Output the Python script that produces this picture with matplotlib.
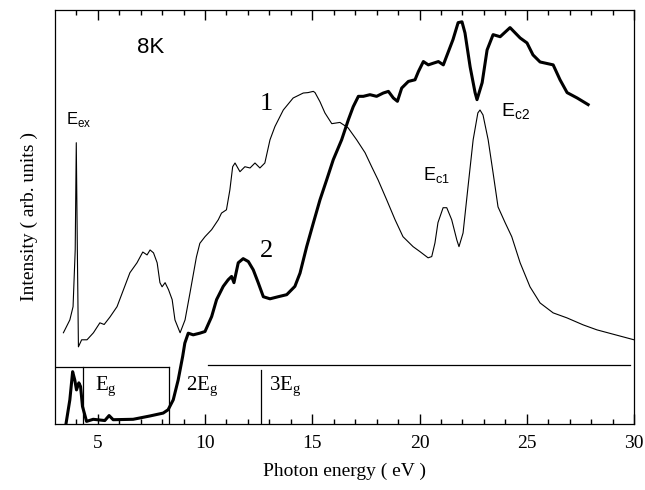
import numpy as np
import matplotlib
matplotlib.use("Agg")
import matplotlib.pyplot as plt

# curve 1 (thin): photon energy (eV), intensity (arb. units)
e1 = [3.4, 3.7, 3.85, 3.95, 4.0, 4.05, 4.1, 4.25, 4.5, 4.8, 5.1, 5.3, 5.57, 5.9,
      6.2, 6.5, 6.83, 7.1, 7.3, 7.44, 7.6, 7.77, 7.9, 8.0, 8.14, 8.3, 8.47, 8.6,
      8.84, 9.07, 9.3, 9.6, 9.76, 10.0, 10.31, 10.62, 10.77, 11.0, 11.16, 11.29,
      11.4, 11.63, 11.86, 12.1, 12.33, 12.56, 12.79, 13.03, 13.26, 13.65, 14.11,
      14.58, 14.8, 15.05, 15.13, 15.36, 15.59, 15.91, 16.29, 16.67, 17.07, 17.46,
      17.77, 18.07, 18.47, 18.86, 19.23, 19.7, 20.02, 20.4, 20.57, 20.72, 20.86,
      21.1, 21.27, 21.5, 21.74, 21.84, 22.03, 22.26, 22.5, 22.72, 22.82, 22.96,
      23.2, 23.43, 23.66, 23.99, 24.3, 24.69, 25.15, 25.62, 26.23, 26.87, 27.63,
      28.27, 30.0]
i1 = [22.0, 25.1, 28.3, 42.0, 67.9, 42.0, 18.6, 20.3, 20.3, 22.0, 24.4, 24.0, 25.8, 28.3,
      32.4, 36.5, 38.9, 41.5, 40.8, 42.0, 41.3, 38.9, 34.1, 33.1, 34.1, 32.4, 30.0, 25.1,
      22.0, 25.1, 31.6, 40.3, 43.6, 45.2, 46.9, 49.3, 50.9, 51.7, 56.5, 62.1,
      63.0, 60.9, 62.1, 61.8, 63.0, 61.8, 63.0, 68.6, 71.8, 75.8, 78.7,
      79.9, 80.0, 80.3, 80.0, 77.8, 75.1, 72.5, 72.8, 71.5, 68.6, 65.5,
      62.1, 58.9, 54.1, 49.3, 45.2, 42.8, 41.6, 40.1, 40.4, 43.7, 48.6,
      52.2, 52.2, 49.3, 44.4, 42.8, 46.1, 57.2, 68.6, 75.1, 75.8, 74.6,
      68.6, 60.6, 52.4, 48.6, 45.2, 38.9, 33.1, 29.2, 26.8, 25.6, 23.9,
      22.7, 20.3]

# curve 2 (thick)
e2 = [3.52, 3.7, 3.83, 3.93, 4.01, 4.12, 4.2, 4.29, 4.48, 4.79, 5.33, 5.53, 5.72,
      6.65, 7.43, 8.05, 8.28, 8.52, 8.75, 8.96, 9.06, 9.22, 9.45, 9.76, 10.0,
      10.31, 10.54, 10.85, 11.08, 11.24, 11.35, 11.55, 11.78, 12.02, 12.25, 12.48,
      12.72, 13.03, 13.41, 13.81, 14.19, 14.43, 14.74, 15.05, 15.36, 15.67, 15.98,
      16.37, 16.68, 16.91, 17.15, 17.38, 17.69, 18.0, 18.31, 18.55, 18.78, 18.97,
      19.17, 19.48, 19.79, 19.95, 20.18, 20.41, 20.64, 20.88, 21.11, 21.56, 21.8,
      21.98, 22.12, 22.36, 22.59, 22.68, 22.92, 23.15, 23.43, 23.76, 24.22, 24.69,
      25.01, 25.29, 25.62, 26.23, 26.55, 26.88, 27.35, 27.86]
i2 = [0.0, 5.8, 12.6, 10.6, 8.2, 9.9, 9.0, 4.2, 0.6, 1.1, 0.8, 2.0, 1.0,
      1.1, 1.9, 2.6, 3.4, 5.8, 10.6, 16.3, 19.5, 21.9, 21.5, 21.9, 22.3,
      25.9, 30.0, 33.2, 34.8, 35.6, 34.1, 38.9, 39.9, 39.2, 37.2, 34.1,
      30.7, 30.2, 30.7, 31.2, 33.2, 36.4, 42.8, 48.5, 54.1, 58.9, 63.8,
      68.6, 73.4, 76.6, 79.1, 79.1, 79.5, 79.1, 79.9, 80.3, 78.7, 77.9,
      81.1, 82.7, 83.1, 85.1, 87.5, 86.7, 87.1, 87.5, 86.7, 92.8, 96.9,
      97.1, 94.4, 86.2, 80.0, 78.3, 82.4, 90.3, 94.0, 93.5, 95.7, 93.2,
      92.0, 89.1, 87.4, 86.7, 83.1, 80.0, 78.7, 77.1]

# Eg, 2Eg, 3Eg markers (eV)
eg_marks = [4.3, 8.3, 12.6]
eg_labels = ["E$_\\mathregular{g}$", "2E$_\\mathregular{g}$", "3E$_\\mathregular{g}$"]

serif = "Liberation Serif"
sans = "Liberation Sans"

fig = plt.figure(figsize=(6.45, 4.9), dpi=100)
ax = fig.add_axes([0.085, 0.135, 0.898, 0.845])

ax.plot(e1, i1, color="black", lw=0.8)
ax.plot(e2, i2, color="black", lw=2.2, solid_joinstyle="round")

# bracket lines in the lower part
ax.plot([3.0, 8.3], [13.8, 13.8], color="black", lw=0.9)
ax.plot([10.15, 29.8], [14.3, 14.3], color="black", lw=0.9)
ax.plot([eg_marks[0], eg_marks[0]], [0, 13.8], color="black", lw=0.9)
ax.plot([eg_marks[1], eg_marks[1]], [0, 13.8], color="black", lw=0.9)
ax.plot([eg_marks[2], eg_marks[2]], [0, 13.0], color="black", lw=0.9)

ax.text(4.85, 8.0, eg_labels[0], fontsize=15, family=serif)
ax.text(9.1, 8.0, eg_labels[1], fontsize=15, family=serif)
ax.text(13.0, 8.0, eg_labels[2], fontsize=15, family=serif)

ax.text(6.85, 89.6, "8K", fontsize=16, family=sans)
ax.text(12.55, 75.8, "1", fontsize=19, family=serif)
ax.text(12.55, 40.3, "2", fontsize=19, family=serif)
ax.text(3.5, 72.5, "E$_\\mathregular{ex}$", fontsize=12, family=sans)
ax.text(20.15, 58.9, "E$_\\mathregular{c1}$", fontsize=13, family=sans)
ax.text(23.8, 74.2, "E$_\\mathregular{c2}$", fontsize=14, family=sans)

ax.set_xlim(3, 30)
ax.set_ylim(0, 100)
ax.set_xticks(np.arange(5, 31, 5))
ax.set_xticks(np.arange(4, 30, 1), minor=True)
ax.tick_params(axis="x", which="both", direction="in", top=True, bottom=True,
               color="black")
ax.tick_params(axis="x", which="major", length=7, width=1.0)
ax.tick_params(axis="x", which="minor", length=3.5, width=1.0)
ax.tick_params(axis="y", left=False, labelleft=False)
ax.set_xticklabels([str(v) for v in range(5, 31, 5)], family=serif, fontsize=14)
ax.tick_params(axis="x", pad=8)
for s in ax.spines.values():
    s.set_linewidth(0.9)

ax.set_xlabel("Photon energy ( eV )", family=serif, fontsize=14, labelpad=8)
ax.set_ylabel("Intensity ( arb. units )", family=serif, fontsize=14, labelpad=12)

fig.savefig("out.png", dpi=100)
